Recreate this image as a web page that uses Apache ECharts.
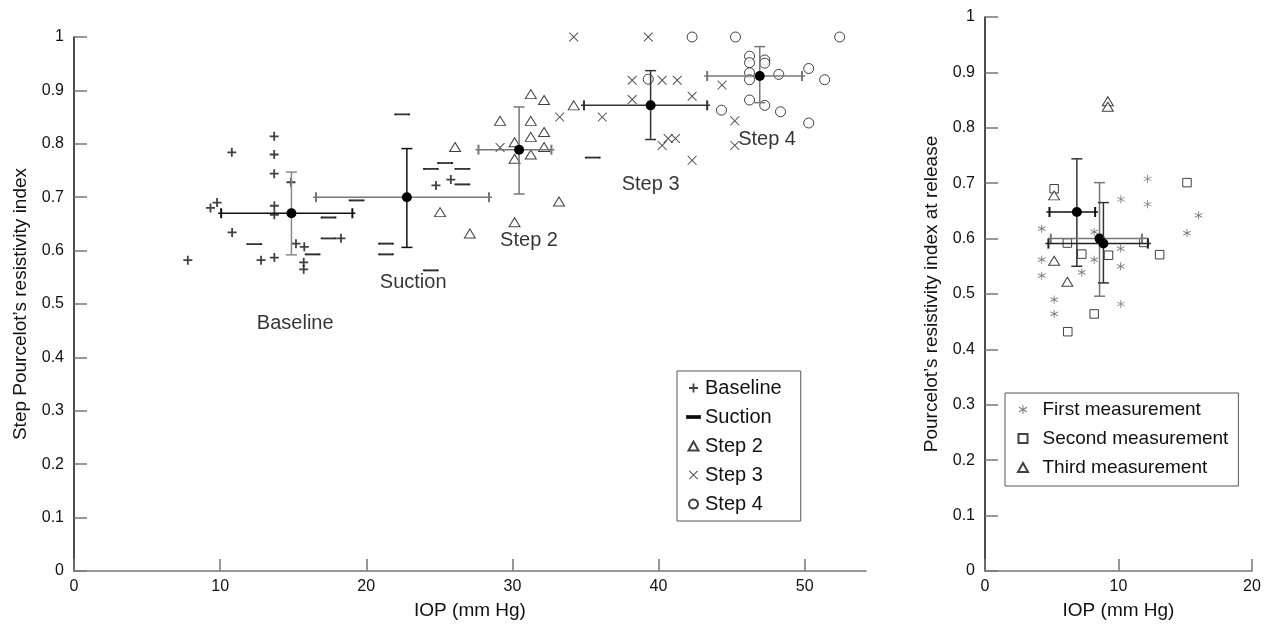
<!DOCTYPE html>
<html><head><meta charset="utf-8">
<script src="https://cdn.jsdelivr.net/npm/echarts@6/dist/echarts.min.js"></script>
<style>html,body{margin:0;padding:0;background:#fff}#c{width:1270px;height:625px}</style>
</head><body><div id="c"></div>
<script>
// ---------- Left panel data ----------
const baseline = [[13.7,0.814],[10.8,0.784],[13.7,0.780],[13.7,0.744],[14.85,0.728],[9.79,0.690],[9.34,0.680],[13.71,0.684],[13.71,0.667],[10.82,0.634],[15.19,0.613],[15.76,0.607],[12.8,0.582],[13.71,0.587],[7.79,0.582],[15.72,0.578],[15.72,0.565],[18.27,0.623],[24.77,0.722],[25.79,0.733]];
const suction = [[19.34,0.694],[17.42,0.662],[17.42,0.623],[12.34,0.612],[16.33,0.593],[21.35,0.613],[21.35,0.593],[24.42,0.563],[24.42,0.753],[25.4,0.764],[26.58,0.753],[26.58,0.724],[22.46,0.855],[35.5,0.774]];
const step2 = [[26.08,0.794],[25.05,0.672],[27.09,0.632],[30.15,0.803],[30.15,0.772],[30.15,0.653],[31.26,0.893],[32.17,0.882],[29.16,0.843],[31.26,0.843],[32.17,0.822],[31.26,0.813],[32.17,0.794],[31.26,0.780],[33.19,0.692],[34.2,0.872]];
const step3 = [[34.2,1.0],[29.16,0.793],[33.24,0.850],[36.15,0.850],[39.3,1.0],[38.2,0.919],[40.25,0.919],[41.28,0.919],[38.2,0.883],[42.3,0.889],[44.35,0.910],[40.25,0.797],[40.66,0.810],[41.16,0.810],[42.3,0.769],[45.22,0.843],[45.22,0.797]];
const step4 = [[42.3,1.0],[45.27,1.0],[52.4,1.0],[39.3,0.921],[46.23,0.964],[46.23,0.952],[47.27,0.957],[47.27,0.951],[46.23,0.933],[46.23,0.920],[48.23,0.930],[50.28,0.941],[51.37,0.920],[46.23,0.882],[47.27,0.872],[48.35,0.860],[44.31,0.863],[50.28,0.839]];

const stepNames = ['Baseline','Suction','Step 2','Step 3','Step 4'];
const stepMeanX = [14.88, 22.78, 30.46, 39.46, 46.93];
const stepMeanY = [0.670, 0.700, 0.789, 0.872, 0.927];
const stepXLow  = [10.07, 16.56, 27.68, 34.9, 43.33];
const stepXHigh = [19.05, 28.4, 32.67, 43.33, 49.82];
const stepYLow  = [0.592, 0.606, 0.706, 0.808, 0.877];
const stepYHigh = [0.747, 0.791, 0.869, 0.937, 0.982];

const leftXTicks = [0,10,20,30,40,50];

// ---------- Right panel data ----------
const measNames = ['First measurement','Second measurement','Third measurement'];
const firstMeas = [[12.18,0.708],[10.18,0.671],[12.18,0.662],[16.0,0.642],[15.13,0.610],[4.25,0.618],[8.18,0.612],[10.16,0.582],[4.25,0.562],[8.18,0.562],[10.16,0.550],[7.25,0.539],[4.25,0.533],[5.18,0.490],[5.18,0.464],[10.18,0.482]];
const secondMeas = [[5.18,0.690],[15.13,0.701],[6.17,0.592],[7.25,0.572],[9.25,0.570],[11.9,0.593],[13.08,0.571],[8.18,0.464],[6.2,0.432]];
const thirdMeas = [[5.18,0.678],[5.18,0.560],[6.17,0.522],[9.2,0.848],[9.2,0.838]];

const measMeanX = [6.88, 8.58, 8.87];
const measMeanY = [0.648, 0.600, 0.591];
const measXLow  = [4.83, 4.93, 4.75];
const measXHigh = [8.25, 11.76, 12.2];
const measYLow  = [0.550, 0.496, 0.520];
const measYHigh = [0.744, 0.701, 0.665];

const rightXTicks = [0,10,20];

// ---------- annotations (data coords) ----------
const annoText = ['Baseline','Suction','Step 2','Step 3','Step 4'];
const annoX = [15.14, 23.21, 31.14, 39.46, 47.43];
const annoY = [0.463, 0.540, 0.619, 0.723, 0.809];

// ---------- styles ----------
const FONT = '"Liberation Sans", Arial, Helvetica, sans-serif';
const stepHColor = ['#111','#777','#777','#333','#777'];
const stepVColor = ['#888','#111','#777','#333','#777'];
const measHColor = ['#111','#777','#222'];
const measVColor = ['#333','#777','#333'];

const PLUS = 'path://M4,0H6V10H4ZM0,4H10V6H0Z';
const DASH = 'path://M0,0H10V1.6H0Z';
const CROSS = 'path://M0.7,0L5,4.3L9.3,0L10,0.7L5.7,5L10,9.3L9.3,10L5,5.7L0.7,10L0,9.3L4.3,5L0,0.7Z';
const STAR = 'path://M4.5,0H5.5V10H4.5ZM9.08,2.07L9.58,2.93L0.92,7.93L0.42,7.07ZM0.92,2.07L9.58,7.07L9.08,7.93L0.42,2.93Z';
const SQUARE = 'path://M0,0H10V10H0Z';
const TRI = 'path://M5,0L10,9H0Z';
const CIRC = 'path://M5,0A5,5,0,1,1,4.99,0Z';

function zip(xs, ys, a, b, c, d) { return xs.map((x,i)=>[x, ys[i], a[i], b[i], c[i], d[i]]); }

function makeErr(hCol, vCol) {
  return function(params, api) {
    const i = params.dataIndex;
    const p = api.coord([api.value(0), api.value(1)]);
    const xl = api.coord([api.value(2), api.value(1)])[0];
    const xh = api.coord([api.value(3), api.value(1)])[0];
    const yl = api.coord([api.value(0), api.value(4)])[1];
    const yh = api.coord([api.value(0), api.value(5)])[1];
    const hs = {stroke: hCol[i], lineWidth: 1.5};
    const hc = {stroke: hCol[i], lineWidth: 2};
    const vs = {stroke: vCol[i], lineWidth: 1.5};
    return {type:'group', children:[
      {type:'line', shape:{x1:xl-3,y1:p[1],x2:xh+3,y2:p[1]}, style:hs},
      {type:'line', shape:{x1:xl,y1:p[1]-5,x2:xl,y2:p[1]+5}, style:hc},
      {type:'line', shape:{x1:xh,y1:p[1]-5,x2:xh,y2:p[1]+5}, style:hc},
      {type:'line', shape:{x1:p[0],y1:yl,x2:p[0],y2:yh}, style:vs},
      {type:'line', shape:{x1:p[0]-5.5,y1:yl,x2:p[0]+5.5,y2:yl}, style:vs},
      {type:'line', shape:{x1:p[0]-5.5,y1:yh,x2:p[0]+5.5,y2:yh}, style:vs},
      {type:'circle', shape:{cx:p[0],cy:p[1],r:5}, style:{fill:'#000'}}
    ]};
  };
}

const axisCommonX = (max, ticks) => ({
  type:'value', min:0, max:max, interval:10,
  name:'IOP (mm Hg)', nameLocation:'middle', nameGap:30,
  nameTextStyle:{fontSize:19, color:'#111', fontFamily:FONT},
  axisLine:{lineStyle:{color:'#777', width:1.5}},
  axisTick:{inside:true, length:12, customValues:ticks, lineStyle:{color:'#777', width:1.5}},
  axisLabel:{customValues:ticks, fontSize:16, color:'#111', fontFamily:FONT, margin:8},
  splitLine:{show:false}
});
const axisCommonY = (name, gap) => ({
  type:'value', min:0, max:1, interval:0.1,
  name:name, nameLocation:'middle', nameGap:gap,
  nameTextStyle:{fontSize:19, color:'#111', fontFamily:FONT},
  axisLine:{lineStyle:{color:'#111', width:1.5}},
  axisTick:{inside:true, length:13, lineStyle:{color:'#777', width:1.5}},
  axisLabel:{fontSize:16, color:'#111', fontFamily:FONT, margin:10},
  splitLine:{show:false}
});

const hollow = {color:'#fff', borderColor:'#111', borderWidth:1};

const option = {
  animation:false,
  backgroundColor:'#fff',
  textStyle:{fontFamily:FONT},
  grid:[
    {left:74, right:404, top:37, bottom:52},
    {left:985, right:18, top:17, bottom:52}
  ],
  xAxis:[ axisCommonX(54.2, leftXTicks), Object.assign(axisCommonX(20, rightXTicks), {gridIndex:1}) ],
  yAxis:[ axisCommonY("Step Pourcelot\u2019s resistivity index", 44), Object.assign(axisCommonY("Pourcelot\u2019s resistivity index at release", 44), {gridIndex:1}) ],
  legend:[
    {data:[
       {name:stepNames[0], icon:PLUS}, {name:stepNames[1], icon:DASH}, {name:stepNames[2], icon:TRI},
       {name:stepNames[3], icon:CROSS}, {name:stepNames[4], icon:CIRC}],
     orient:'vertical', left:677, top:371, padding:[7,19,7,9], itemGap:9,
     itemWidth:13, itemHeight:9, symbolKeepAspect:true, borderColor:'#555', borderWidth:1,
     textStyle:{fontSize:20, color:'#111', fontFamily:FONT}},
    {data:[{name:measNames[0], icon:STAR}, {name:measNames[1], icon:SQUARE}, {name:measNames[2], icon:TRI}],
     orient:'vertical', left:1005, top:393, padding:[7,10,9,12], itemGap:10,
     itemWidth:11, itemHeight:9, symbolKeepAspect:true, borderColor:'#555', borderWidth:1,
     textStyle:{fontSize:19, color:'#111', fontFamily:FONT, padding:[0,0,0,9]}}
  ],
  series:[
    {name:'Baseline', type:'scatter', data:baseline, symbol:PLUS, symbolSize:9, itemStyle:{color:'#111'}, clip:false},
    {name:'Suction', type:'scatter', data:suction, symbol:'rect', symbolSize:[14,1.6], itemStyle:{color:'#000', borderColor:'#000', borderWidth:0.6}, clip:false},
    {name:'Step 2', type:'scatter', data:step2, symbol:'triangle', symbolSize:[11,9], itemStyle:hollow, clip:false},
    {name:'Step 3', type:'scatter', data:step3, symbol:CROSS, symbolSize:9.5, itemStyle:{color:'#222'}, clip:false},
    {name:'Step 4', type:'scatter', data:step4, symbol:'circle', symbolSize:10, itemStyle:hollow, clip:false},
    {type:'custom', name:'stepErr', data:zip(stepMeanX, stepMeanY, stepXLow, stepXHigh, stepYLow, stepYHigh), renderItem:makeErr(stepHColor, stepVColor), z:5, silent:true},
    {type:'scatter', name:'anno', data:annoText.map((t,i)=>({name:t, value:[annoX[i], annoY[i]]})), symbolSize:0, silent:true,
     label:{show:true, position:'inside', formatter:p=>p.name, fontSize:20, color:'#000', fontFamily:FONT}, z:6, clip:false},

    {name:measNames[0], type:'scatter', xAxisIndex:1, yAxisIndex:1, data:firstMeas, symbol:STAR, symbolSize:8, itemStyle:{color:'#555'}, clip:false},
    {name:measNames[1], type:'scatter', xAxisIndex:1, yAxisIndex:1, data:secondMeas, symbol:'rect', symbolSize:8.5, itemStyle:hollow, clip:false},
    {name:measNames[2], type:'scatter', xAxisIndex:1, yAxisIndex:1, data:thirdMeas, symbol:'triangle', symbolSize:[11,9], itemStyle:hollow, clip:false},
    {type:'custom', name:'measErr', xAxisIndex:1, yAxisIndex:1, data:zip(measMeanX, measMeanY, measXLow, measXHigh, measYLow, measYHigh), renderItem:makeErr(measHColor, measVColor), z:5, silent:true}
  ]
};
echarts.init(document.getElementById('c')).setOption(option);
</script>
</body></html>
